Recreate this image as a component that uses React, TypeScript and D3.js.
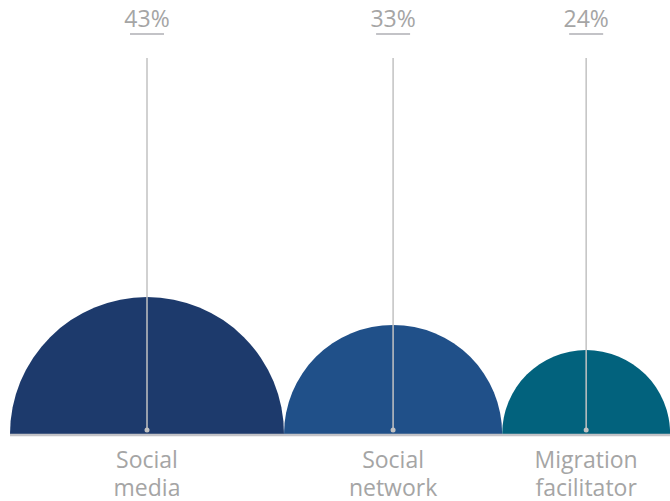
import React, { useEffect, useRef } from 'react';
import * as d3 from 'd3';

const categories = ['Social media', 'Social network', 'Migration facilitator'];
const values = [43, 33, 24];
const valueLabels = ['43%', '33%', '24%'];
const colors = ['#1d3a6c', '#205089', '#02627d'];

export default function App() {
  const svgRef = useRef<SVGSVGElement>(null);

  useEffect(() => {
    if (!svgRef.current) return;
    const width = 670;
    const height = 501;
    const baseY = 434;
    const startX = 10;

    const svg = d3.select(svgRef.current);
    svg.selectAll('*').remove();
    svg.attr('width', width).attr('height', height);

    // radius grows with the share, bubbles sit edge to edge
    const r = d3.scaleLinear().domain([0, d3.max(values) as number]).range([17, 137]);
    const centers: number[] = [];
    let x = startX;
    values.forEach((v) => {
      centers.push(x + r(v));
      x += 2 * r(v);
    });

    const arc = d3.arc<number>()
      .innerRadius(0)
      .outerRadius((d) => r(d))
      .startAngle(-Math.PI / 2)
      .endAngle(Math.PI / 2);

    const g = svg.append('g');

    g.selectAll('path.half')
      .data(values)
      .enter()
      .append('path')
      .attr('class', 'half')
      .attr('d', (d) => arc(d) as string)
      .attr('transform', (d, i) => `translate(${centers[i]},${baseY})`)
      .attr('fill', (d, i) => colors[i]);

    // baseline
    g.append('line')
      .attr('x1', startX)
      .attr('x2', width)
      .attr('y1', baseY + 1)
      .attr('y2', baseY + 1)
      .attr('stroke', '#c3c3c7')
      .attr('stroke-width', 2.5);

    // leader lines
    g.selectAll('line.lead')
      .data(values)
      .enter()
      .append('line')
      .attr('class', 'lead')
      .attr('x1', (d, i) => centers[i])
      .attr('x2', (d, i) => centers[i])
      .attr('y1', 58)
      .attr('y2', baseY - 4)
      .attr('stroke', '#c2c2c2')
      .attr('stroke-width', 1.5);

    g.selectAll('circle.dot')
      .data(values)
      .enter()
      .append('circle')
      .attr('class', 'dot')
      .attr('cx', (d, i) => centers[i])
      .attr('cy', baseY - 4)
      .attr('r', 2.5)
      .attr('fill', '#c2c2c2');

    // value labels with underline
    g.selectAll('text.val')
      .data(valueLabels)
      .enter()
      .append('text')
      .attr('class', 'val')
      .attr('x', (d, i) => centers[i])
      .attr('y', 27)
      .attr('text-anchor', 'middle')
      .style('font-family', 'Open Sans, sans-serif')
      .style('font-size', '23px')
      .style('fill', '#a5a5a5')
      .text((d) => d);

    g.selectAll('line.under')
      .data(values)
      .enter()
      .append('line')
      .attr('class', 'under')
      .attr('x1', (d, i) => centers[i] - 17)
      .attr('x2', (d, i) => centers[i] + 17)
      .attr('y1', 34)
      .attr('y2', 34)
      .attr('stroke', '#c3c3c7')
      .attr('stroke-width', 2);

    // category labels
    const cat = g.selectAll('text.cat')
      .data(categories)
      .enter()
      .append('text')
      .attr('class', 'cat')
      .attr('text-anchor', 'middle')
      .style('font-family', 'Open Sans, sans-serif')
      .style('font-size', '23px')
      .style('fill', '#a5a5a5');

    cat.each(function (d, i) {
      const words = d.split(' ');
      const t = d3.select(this);
      t.append('tspan').attr('x', centers[i]).attr('y', 468).text(words[0]);
      t.append('tspan').attr('x', centers[i]).attr('y', 496).text(words.slice(1).join(' '));
    });
  }, []);

  return (
    <svg
      ref={svgRef}
      style={{ position: 'absolute', left: 0, top: 0, display: 'block', background: '#fff' }}
    />
  );
}
